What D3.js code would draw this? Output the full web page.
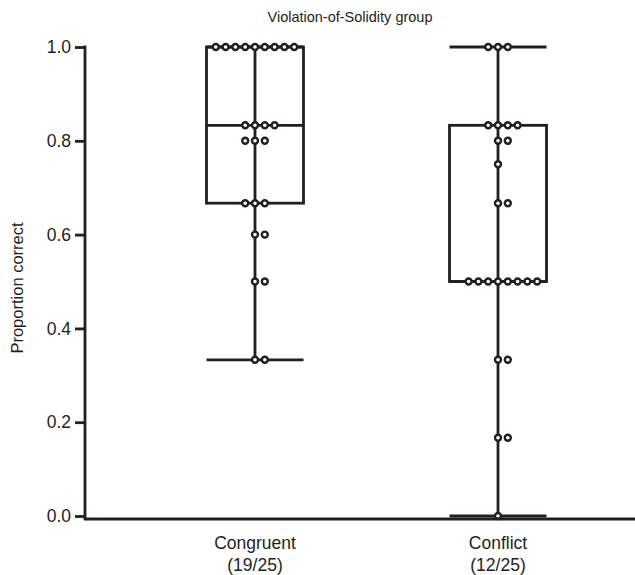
<!DOCTYPE html>
<html>
<head>
<meta charset="utf-8">
<script src="https://cdn.jsdelivr.net/npm/d3@7"></script>
<style>
  body { margin: 0; background: #fff; }
  text { font-family: "Liberation Sans", Arial, sans-serif; fill: #231f20; }
</style>
</head>
<body>
<div id="chart"></div>
<script>
// groups and their x labels
const groups = ["Congruent", "Conflict"];
const groupCounts = ["(19/25)", "(12/25)"];

// proportion correct per child
const congruentValues = [
    1, 1, 1, 1, 1, 1, 1, 1, 1,
    0.833, 0.833, 0.833, 0.833,
    0.8, 0.8, 0.8,
    0.667, 0.667, 0.667,
    0.6, 0.6,
    0.5, 0.5,
    0.333, 0.333
];
const conflictValues = [
    1, 1, 1,
    0.833, 0.833, 0.833, 0.833,
    0.8, 0.8,
    0.75,
    0.667, 0.667,
    0.5, 0.5, 0.5, 0.5, 0.5, 0.5, 0.5, 0.5,
    0.333, 0.333,
    0.167, 0.167,
    0
];
const yTicks = [0, 0.2, 0.4, 0.6, 0.8, 1.0];

const ink = "#231f20";
const width = 635, height = 575;

const svg = d3.select("#chart")
    .append("svg")
    .attr("width", width)
    .attr("height", height);

// scales
const x = d3.scalePoint()
    .domain(groups)
    .range([255, 498]);

const y = d3.scaleLinear()
    .domain([0, 1])
    .range([516, 47]);

const boxWidth = 97;
const dotStep = 9.8;

// title
svg.append("text")
    .attr("x", 350)
    .attr("y", 22)
    .attr("text-anchor", "middle")
    .style("font-size", "14.5px")
    .text("Violation-of-Solidity group");

// y label
svg.append("text")
    .attr("transform", "translate(23,288) rotate(-90)")
    .attr("text-anchor", "middle")
    .style("font-size", "16.5px")
    .text("Proportion correct");

// boxes
const series = [congruentValues, conflictValues];
series.forEach((vals, i) => {
    const sorted = vals.slice().sort(d3.ascending);
    const q1 = d3.quantile(sorted, 0.25);
    const med = d3.quantile(sorted, 0.5);
    const q3 = d3.quantile(sorted, 0.75);
    const lo = d3.min(sorted), hi = d3.max(sorted);
    const cx = x(groups[i]);
    const g = svg.append("g")
        .attr("fill", "none")
        .attr("stroke", ink)
        .attr("stroke-width", 2.8);

    // whisker line
    g.append("line")
        .attr("x1", cx).attr("x2", cx)
        .attr("y1", y(lo)).attr("y2", y(hi));
    // caps
    [lo, hi].forEach(v => {
        g.append("line")
            .attr("x1", cx - boxWidth / 2).attr("x2", cx + boxWidth / 2)
            .attr("y1", y(v)).attr("y2", y(v));
    });
    // box
    g.append("rect")
        .attr("x", cx - boxWidth / 2)
        .attr("y", y(q3))
        .attr("width", boxWidth)
        .attr("height", y(q1) - y(q3));
    // median
    g.append("line")
        .attr("x1", cx - boxWidth / 2).attr("x2", cx + boxWidth / 2)
        .attr("y1", y(med)).attr("y2", y(med));

    // swarm dots: center, +1, -1, +2, -2 ...
    const byValue = d3.groups(vals, d => d);
    const dots = [];
    byValue.forEach(([v, arr]) => {
        arr.forEach((d, k) => {
            const off = k === 0 ? 0 : (k % 2 === 1 ? (k + 1) / 2 : -k / 2);
            dots.push({ v: d, off });
        });
    });
    svg.append("g").selectAll("circle")
        .data(dots)
        .enter()
        .append("circle")
        .attr("cx", d => cx + d.off * dotStep)
        .attr("cy", d => y(d.v))
        .attr("r", 3)
        .attr("fill", "#fff")
        .attr("stroke", ink)
        .attr("stroke-width", 2.4);
});

// y axis
const yAxis = svg.append("g")
    .attr("transform", "translate(85,0)")
    .call(d3.axisLeft(y)
        .tickValues(yTicks)
        .tickFormat(d3.format(".1f"))
        .tickSize(10)
        .tickPadding(4));
yAxis.select(".domain").remove();
yAxis.selectAll(".tick line")
    .attr("stroke", ink)
    .attr("stroke-width", 2.8);
yAxis.selectAll("text")
    .style("font-size", "17.5px")
    .attr("fill", ink);

// axis lines
svg.append("line")
    .attr("x1", 85).attr("x2", 85)
    .attr("y1", y(1) - 1.4).attr("y2", 520)
    .attr("stroke", ink)
    .attr("stroke-width", 2.8);
svg.append("line")
    .attr("x1", 84).attr("x2", width)
    .attr("y1", 519).attr("y2", 519)
    .attr("stroke", ink)
    .attr("stroke-width", 2.8);

// x labels
const xl = svg.append("g").selectAll("text")
    .data(groups)
    .enter()
    .append("text")
    .attr("x", d => x(d))
    .attr("y", 549)
    .attr("text-anchor", "middle")
    .style("font-size", "17.5px");
xl.append("tspan")
    .attr("x", d => x(d))
    .text(d => d);
xl.append("tspan")
    .attr("x", d => x(d))
    .attr("dy", 22)
    .text((d, i) => groupCounts[i]);
</script>
</body>
</html>
